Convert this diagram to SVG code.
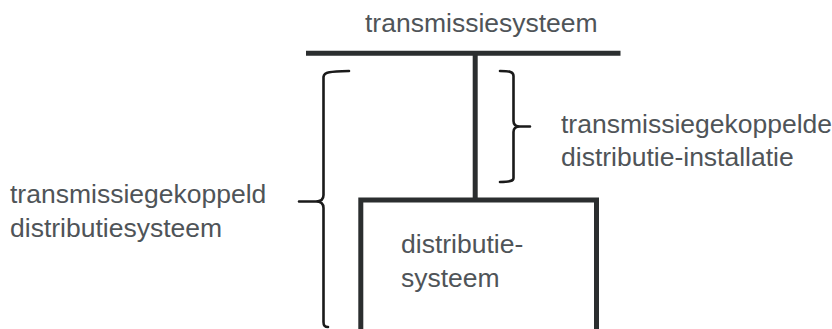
<svg xmlns="http://www.w3.org/2000/svg" width="832" height="329" viewBox="0 0 832 329">
<style>
.t{font-family:"Liberation Sans",Arial,sans-serif;font-size:26.5px;fill:#4f5458}
.bar{stroke:#2b2e2f;stroke-width:5;fill:none}
.br{stroke:#1a1a1a;stroke-width:2.6;fill:none;stroke-linecap:round;stroke-linejoin:round}
</style>
<rect width="832" height="329" fill="#ffffff"/>
<g id="transmissiesysteem">
<line class="bar" x1="306" y1="53.3" x2="620.5" y2="53.3"/>
<text class="t" x="365" y="32">transmissiesysteem</text>
</g>
<g id="connectors">
<line class="bar" x1="475.2" y1="53" x2="475.2" y2="200"/>
</g>
<g id="distributiesysteem">
<polyline class="bar" points="360.8,332 360.8,200 596.5,200 596.5,332"/>
<text class="t" x="401" y="253">distributie-</text>
<text class="t" x="401" y="287">systeem</text>
</g>
<g id="distributie-installatie">
<path class="br" d="M500,71 C510,71 513.5,72 513.5,76 L513.5,121 C513.5,125 516,126.5 520,126.5 L530,126.5 M520,126.5 C516,126.5 513.5,128 513.5,132 L513.5,178 C513.5,181 510,182 500,182"/>
<text class="t" x="561" y="133">transmissiegekoppelde</text>
<text class="t" x="561" y="166">distributie-installatie</text>
</g>
<g id="transmissiegekoppeld-distributiesysteem">
<path class="br" d="M349,71 C330,71.5 324,72 323.5,77 L323.5,195 C323.5,199 321,201.5 316,201.5 L299,201.5 M316,201.5 C321,201.5 323.5,204 323.5,208 L323.5,322 C323.5,326 325,327 328,327"/>
<text class="t" x="10" y="203">transmissiegekoppeld</text>
<text class="t" x="10" y="237">distributiesysteem</text>
</g>
</svg>
